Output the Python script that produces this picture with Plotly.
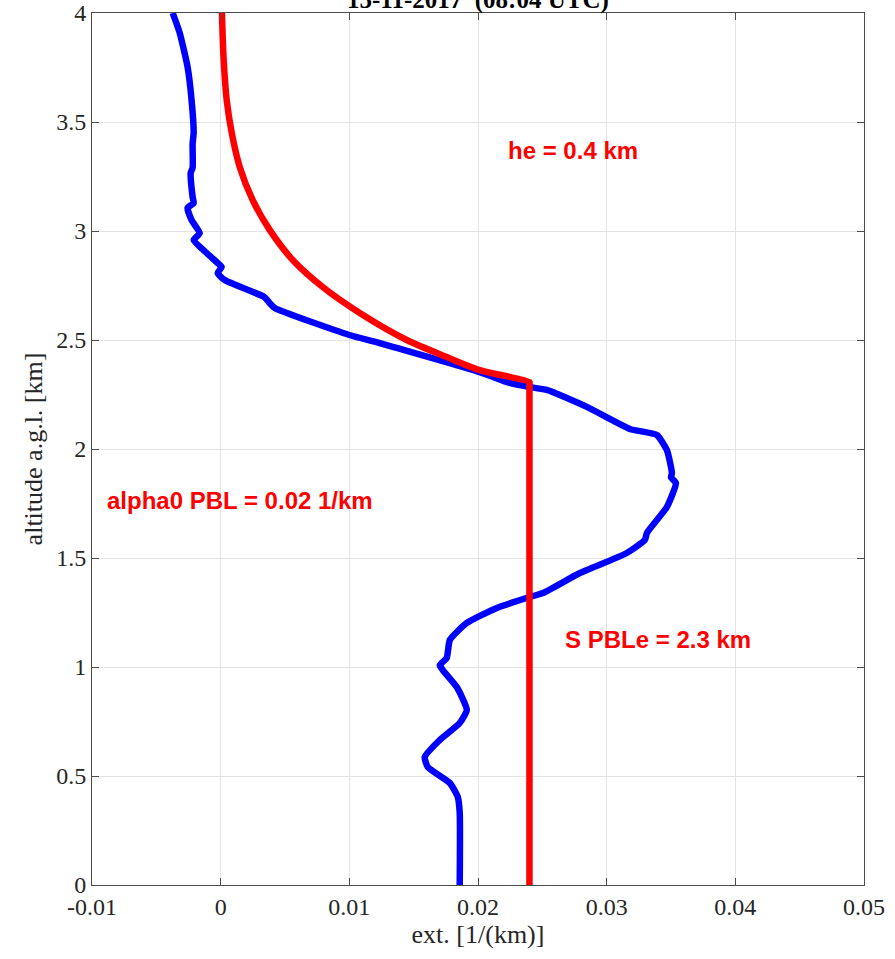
import plotly.graph_objects as go

# Measured extinction profile (blue)
blue_ext = [-0.00373, -0.00319, -0.00257, -0.00226, -0.0021, -0.00218, -0.00218, -0.00233, -0.00218, -0.0021,
            -0.00257, -0.00226, -0.00163, -0.0021, -0.00109, -0.00023, 0.00008, -0.00023, 0.00031,
            0.0034, 0.0038, 0.0042, 0.0100, 0.01236, 0.02014, 0.02247, 0.02403, 0.02535, 0.02846,
            0.0318, 0.0339, 0.03468, 0.03507, 0.0350, 0.03538, 0.03468, 0.03313, 0.03297, 0.03157,
            0.02792, 0.02504, 0.0238, 0.02146, 0.01913, 0.01781, 0.01757, 0.01703, 0.01726, 0.01835,
            0.01913, 0.01858, 0.01703, 0.01586, 0.0161, 0.01781, 0.01843, 0.01858, 0.01858]
blue_alt = [4.0, 3.91, 3.752, 3.60, 3.45, 3.40, 3.29, 3.266, 3.156, 3.128,
            3.106, 3.05, 2.99, 2.959, 2.899, 2.853, 2.835, 2.807, 2.775,
            2.697, 2.670, 2.647, 2.523, 2.486, 2.353, 2.303, 2.284, 2.271, 2.193,
            2.092, 2.064, 1.995, 1.89, 1.87, 1.844, 1.734, 1.615, 1.583, 1.523,
            1.431, 1.339, 1.317, 1.271, 1.202, 1.124, 1.041, 1.009, 0.986, 0.908,
            0.803, 0.743, 0.665, 0.587, 0.541, 0.468, 0.404, 0.330, 0.0]

# Model profile (red)
red_ext = [0.0001, 0.00022, 0.00047, 0.00086, 0.00148, 0.00249, 0.00381, 0.0056, 0.00793,
           0.01081, 0.01446, 0.01757, 0.02014, 0.0240, 0.0240, 0.0240]
red_alt = [4.0, 3.8, 3.6, 3.45, 3.294, 3.142, 3.005, 2.867, 2.743,
           2.624, 2.5, 2.422, 2.362, 2.307, 2.3, 0.0]

x_ticks = [-0.01, 0, 0.01, 0.02, 0.03, 0.04, 0.05]
x_tick_labels = ["-0.01", "0", "0.01", "0.02", "0.03", "0.04", "0.05"]
y_ticks = [0, 0.5, 1, 1.5, 2, 2.5, 3, 3.5, 4]
y_tick_labels = ["0", "0.5", "1", "1.5", "2", "2.5", "3", "3.5", "4"]

title_text = "15-11-2017  (08:04 UTC)"
labels = [
    ("he = 0.4 km", 0.0274, 3.367),
    ("alpha0 PBL = 0.02 1/km", 0.0015, 1.766),
    ("S PBLe = 2.3 km", 0.034, 1.124),
]

SERIF = "Liberation Serif, Times New Roman, serif"

fig = go.Figure()
fig.add_trace(go.Scatter(x=blue_ext, y=blue_alt, mode="lines",
                         line=dict(color="#0000FF", width=6.5, shape="spline", smoothing=0.5),
                         showlegend=False))
fig.add_trace(go.Scatter(x=red_ext, y=red_alt, mode="lines",
                         line=dict(color="#FF0000", width=6.5, shape="spline", smoothing=0.8),
                         showlegend=False))

for txt, x, y in labels:
    fig.add_annotation(x=x, y=y, text=f"<b>{txt}</b>", showarrow=False,
                       font=dict(family="Liberation Sans, Arial", size=24, color="#FF0000"))

fig.add_annotation(x=0.5, y=1, xref="paper", yref="paper", xanchor="center", yanchor="middle",
                   text=f"<b>{title_text}</b>", showarrow=False, yshift=13,
                   font=dict(family=SERIF, size=25, color="#000000"))

axis_common = dict(showgrid=True, gridcolor="#E3E3E3", gridwidth=1, zeroline=False,
                   showline=True, linecolor="#4D4D4D", linewidth=1, mirror="ticks",
                   ticks="inside", ticklen=7, tickcolor="#4D4D4D",
                   tickfont=dict(family=SERIF, size=24, color="#262626"))

fig.update_xaxes(range=[-0.01, 0.05], tickvals=x_ticks, ticktext=x_tick_labels,
                 title=dict(text="ext. [1/(km)]", standoff=4,
                            font=dict(family=SERIF, size=26, color="#262626")),
                 **axis_common)
fig.update_yaxes(range=[0, 4], tickvals=y_ticks, ticktext=y_tick_labels,
                 title=dict(text="altitude a.g.l. [km]", standoff=6,
                            font=dict(family=SERIF, size=26, color="#262626")),
                 **axis_common)

fig.update_layout(width=895, height=959,
                  margin=dict(l=92, r=31, t=13, b=74, autoexpand=False),
                  plot_bgcolor="white", paper_bgcolor="white")

fig.write_html("out.html")
